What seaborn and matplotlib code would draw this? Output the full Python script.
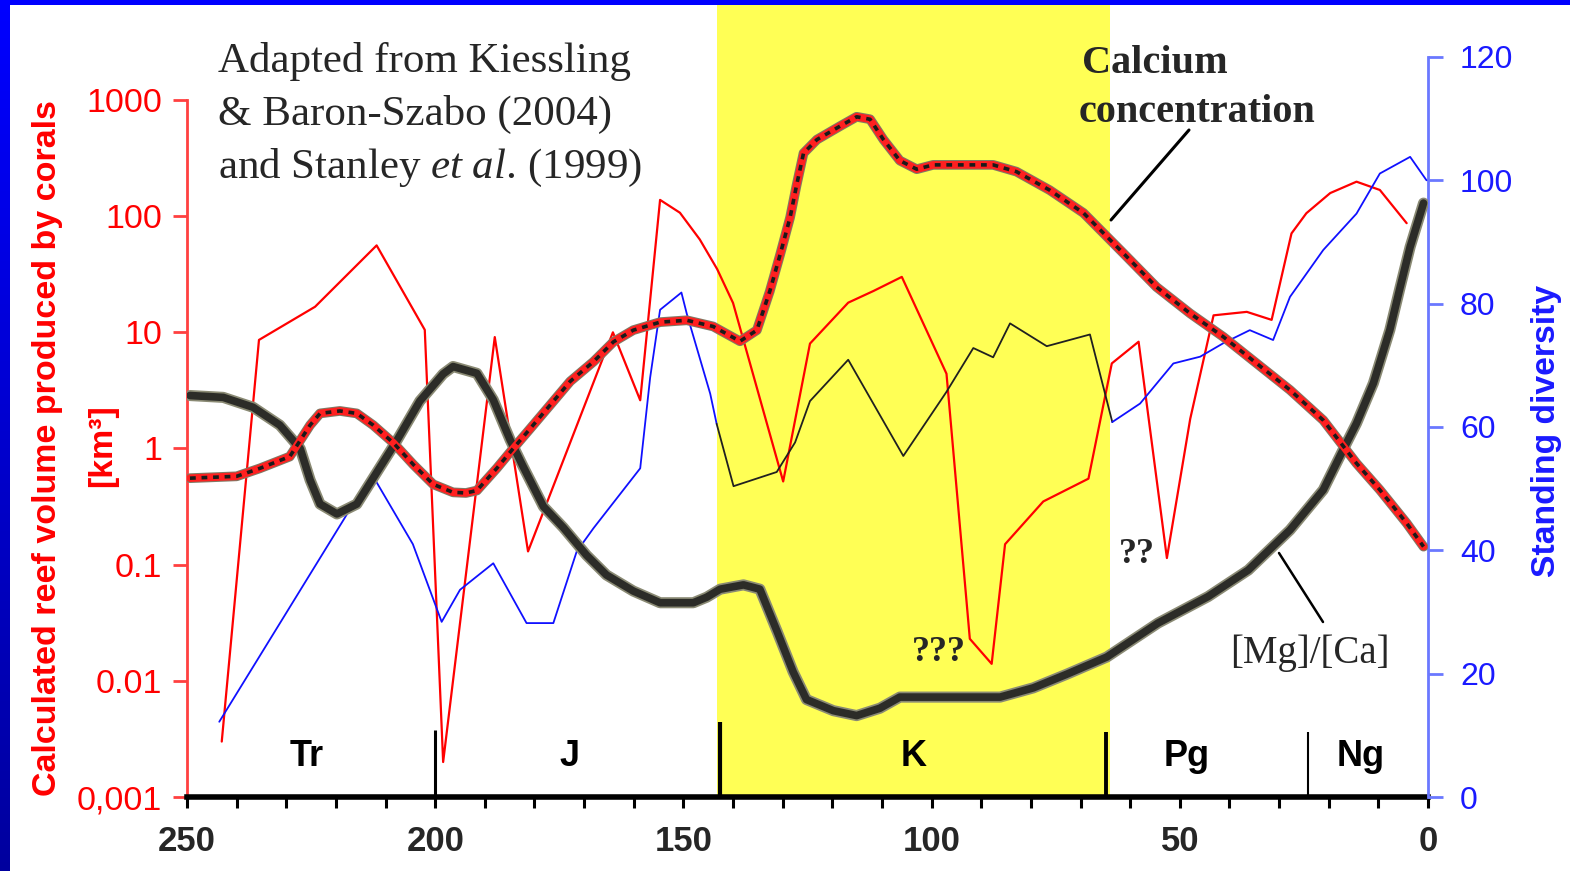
import matplotlib
matplotlib.use("Agg")
import matplotlib.pyplot as plt
from matplotlib.lines import Line2D
from matplotlib.ticker import FixedLocator, NullLocator
import numpy as np
import pandas as pd
import seaborn as sns

# calculated reef volume produced by corals [km3] (left, log axis)
reef_age = [243.0, 235.5, 224.2, 211.8, 202.1, 198.4, 188.0, 181.3, 164.2, 158.7,
            154.7, 150.7, 146.7, 143.2, 140.0, 129.9, 124.5, 116.8, 111.7, 106.0,
            97.0, 92.3, 87.9, 85.2, 77.5, 68.4, 63.7, 58.3, 52.6, 47.9,
            43.2, 36.5, 31.5, 27.5, 24.5, 19.7, 14.4, 9.7, 4.3]
reef_volume = [0.003, 8.6, 16.6, 56, 10.5, 0.002, 9.1, 0.13, 10, 2.6,
               138, 107, 63, 35, 17.9, 0.52, 8.0, 18, 22.7, 30,
               4.4, 0.023, 0.014, 0.15, 0.35, 0.55, 5.4, 8.3, 0.114, 1.8,
               14, 15, 12.8, 71, 106, 158, 198, 168, 87]

# standing diversity (right axis)
div_age = [243.5, 218.5, 212.8, 204.5, 201.0, 198.7, 195.0, 188.3, 181.6, 176.2,
           171.5, 168.1, 158.7, 156.7, 154.7, 150.4, 149.3, 144.6, 143.3, 139.9,
           131.2, 127.5, 124.5, 116.8, 105.7, 97.0, 91.6, 87.6, 84.2, 76.8,
           68.1, 63.6, 58.0, 51.3, 45.9, 41.2, 35.9, 31.2, 27.8, 21.1,
           14.4, 9.7, 3.6, 0.3]
diversity = [12.2, 44.9, 52.4, 41.0, 33.4, 28.4, 33.6, 37.9, 28.2, 28.2,
             39.8, 43.6, 53.3, 68.0, 79.0, 81.8, 78.3, 65.4, 60.5, 50.4,
             52.7, 57.5, 64.2, 70.9, 55.3, 65.7, 72.8, 71.3, 76.8, 73.1,
             75.0, 60.8, 63.8, 70.3, 71.4, 73.6, 75.7, 74.1, 81.1, 88.7,
             94.6, 101.1, 103.8, 100.0]

# [Mg]/[Ca] curve (drawn in right-axis units)
mgca_age = [249.4, 242.7, 236.7, 231.3, 227.2, 225.2, 223.2, 219.8, 215.8, 211.8,
            207.8, 203.1, 198.4, 196.4, 191.6, 188.3, 184.9, 182.3, 178.2, 174.2,
            169.5, 165.5, 160.1, 154.7, 148.0, 145.3, 142.6, 137.9, 134.6, 131.2,
            127.9, 125.2, 119.8, 115.1, 110.4, 106.4, 86.2, 79.5, 72.8, 64.7,
            54.4, 44.3, 36.2, 27.8, 21.1, 17.1, 14.4, 11.0, 7.7, 5.6,
            3.6, 0.9]
mgca = [65.1, 64.8, 63.2, 60.3, 56.5, 51.4, 47.5, 45.9, 47.5, 52.6,
        57.7, 64.2, 68.6, 69.8, 68.7, 64.4, 57.9, 53.6, 47.1, 43.7,
        39.2, 36.0, 33.4, 31.5, 31.5, 32.4, 33.7, 34.4, 33.7, 27.0,
        20.3, 15.8, 14.0, 13.2, 14.4, 16.2, 16.2, 17.7, 19.9, 22.7,
        28.2, 32.5, 36.8, 43.3, 49.8, 56.3, 60.6, 67.1, 75.7, 82.7,
        89.2, 96.3]

# calcium concentration curve (drawn in right-axis units)
ca_age = [249.4, 240.0, 235.3, 229.3, 225.2, 223.2, 219.2, 215.8, 212.5, 208.4,
          204.4, 200.4, 196.4, 193.8, 191.6, 187.6, 184.3, 180.9, 176.9, 172.8,
          168.1, 164.1, 160.1, 154.7, 149.3, 144.0, 138.6, 135.2, 132.6, 130.5,
          128.5, 127.2, 125.8, 123.1, 118.4, 115.1, 112.4, 109.7, 106.4, 103.0,
          99.7, 87.6, 82.9, 76.2, 69.4, 61.4, 54.7, 47.9, 41.2, 34.5,
          27.8, 21.1, 14.4, 9.7, 4.3, 0.9]
ca = [51.7, 52.0, 53.3, 55.2, 60.3, 62.2, 62.6, 62.2, 60.3, 57.4,
      53.9, 50.7, 49.4, 49.3, 49.7, 53.3, 56.5, 59.7, 63.5, 67.4,
      70.6, 73.8, 75.7, 77.0, 77.3, 76.3, 73.9, 75.7, 82.0, 88.0,
      94.0, 99.2, 104.4, 106.6, 108.8, 110.3, 109.9, 106.6, 103.2, 101.8,
      102.5, 102.5, 101.4, 98.4, 94.7, 88.2, 82.7, 78.4, 74.6, 70.3,
      66.0, 61.1, 54.1, 49.8, 44.4, 40.6]

# geological periods
period_names = ["Tr", "J", "K", "Pg", "Ng"]
period_mid = [225.8, 173.0, 103.6, 48.6, 13.6]
period_bounds = [200.0, 142.6, 64.8, 24.2]
cretaceous = (143.2, 64.1)

reef_ticks = [0.001, 0.01, 0.1, 1, 10, 100, 1000]
reef_tick_labels = ["0,001", "0.01", "0.1", "1", "10", "100", "1000"]
div_ticks = [0, 20, 40, 60, 80, 100, 120]
age_ticks = [0, 50, 100, 150, 200, 250]

sns.set_style("white")
plt.rcParams['font.family'] = ['Liberation Sans', 'DejaVu Sans']
plt.rcParams['mathtext.fontset'] = 'custom'
plt.rcParams['mathtext.rm'] = 'Liberation Serif'
plt.rcParams['mathtext.it'] = 'Liberation Serif:italic'

W, H = 1570, 871
fig = plt.figure(figsize=(W / 100, H / 100), dpi=100)
fig.patch.set_facecolor('white')


def fx(px):
    return px / W


def fy(py):
    return 1 - py / H


ax = fig.add_axes([fx(187), fy(797), fx(1428) - fx(187), fy(5) - fy(797)])
ax2 = ax.twinx()

ax.set_xlim(250, 0)
ax.set_yscale('log')
ax.set_ylim(1e-3, 10 ** (3 + 95 / 116.2))
ax2.set_ylim(0, 792 / 6.167)

ax.axvspan(cretaceous[0], cretaceous[1], color='#ffff55', lw=0, zorder=0)

# reef volume
sns.lineplot(x=reef_age, y=reef_volume, ax=ax, color='#ff0000', lw=1.6,
             sort=False, estimator=None)

# diversity: blue outside K, black inside
df_div = pd.DataFrame({'age': div_age, 'div': diversity})
before = df_div[df_div['age'] >= 143.3]
inside = df_div[(df_div['age'] <= 143.3) & (df_div['age'] >= 63.6)]
after = df_div[df_div['age'] <= 63.6]
for part, col in [(before, '#1010ff'), (inside, '#202020'), (after, '#1010ff')]:
    sns.lineplot(data=part, x='age', y='div', ax=ax2, color=col, lw=1.3,
                 sort=False, estimator=None, zorder=3)

# Mg/Ca thick curve
sns.lineplot(x=mgca_age, y=mgca, ax=ax2, color='#8a8a74', lw=8,
             sort=False, estimator=None, zorder=4, solid_capstyle='round',
             solid_joinstyle='round')
sns.lineplot(x=mgca_age, y=mgca, ax=ax2, color='#2c2c28', lw=5.5,
             sort=False, estimator=None, zorder=5, solid_capstyle='round',
             solid_joinstyle='round')

# calcium concentration thick curve
sns.lineplot(x=ca_age, y=ca, ax=ax2, color='#807a66', lw=7,
             sort=False, estimator=None, zorder=4, solid_joinstyle='round')
sns.lineplot(x=ca_age, y=ca, ax=ax2, color='#ff2020', lw=5.5,
             sort=False, estimator=None, zorder=5, solid_joinstyle='round')
ax2.plot(ca_age, ca, color='#1a1a1a', lw=2.6, dashes=(1.6, 1.6), zorder=6)

# period boundaries and names
bound_tops = [10.9, 12.2, 10.6, 10.6]
bound_widths = [2.2, 3.0, 2.8, 1.5]
for b, t, w in zip(period_bounds, bound_tops, bound_widths):
    ax2.vlines(b, 0, t, colors='black', lw=w, zorder=6)
for name, m in zip(period_names, period_mid):
    ax2.text(m, 6.5, name, ha='center', va='center', fontsize=26,
             fontweight='bold', color='black', zorder=7)

# spines
for s in ['top', 'right']:
    ax.spines[s].set_visible(False)
for s in ['top', 'left', 'bottom']:
    ax2.spines[s].set_visible(False)
ax.spines['bottom'].set_color('black')
ax.spines['bottom'].set_linewidth(4)
ax.spines['bottom'].set_zorder(8)
ax.spines['left'].set_color('#ff4040')
ax.spines['left'].set_linewidth(2)
ax.spines['left'].set_bounds(1e-3, 1e3)
ax2.spines['right'].set_color('#6a78ff')
ax2.spines['right'].set_linewidth(2)
ax2.spines['right'].set_bounds(0, 120)

# x axis
ax.set_xticks(age_ticks)
ax.set_xticklabels([str(t) for t in age_ticks], fontweight='bold')
ax.set_xticks(range(0, 251, 10), minor=True)
ax.tick_params(axis='x', which='both', bottom=True, direction='out', length=8,
               width=2.2, color='black', labelsize=25, pad=12)

# left axis
ax.yaxis.set_major_locator(FixedLocator(reef_ticks))
ax.yaxis.set_minor_locator(NullLocator())
ax.set_yticklabels(reef_tick_labels)
ax.tick_params(axis='y', which='major', left=True, direction='out', length=10,
               width=2, color='#ff4040', labelcolor='#ff0000', labelsize=24.5, pad=8)

# right axis
ax2.set_yticks(div_ticks)
ax2.yaxis.set_minor_locator(NullLocator())
ax2.tick_params(axis='y', which='major', right=True, direction='out', length=11,
                width=2, color='#6a78ff', labelcolor='#1a1aff', labelsize=23, pad=12)
ax.set_xlabel('')
ax.set_ylabel('')
ax2.set_xlabel('')
ax2.set_ylabel('')

# axis titles
fig.text(fx(47.5), fy(448), 'Calculated reef volume produced by corals', rotation=90,
         color='#ff0000', fontweight='bold', fontsize=24.5, ha='center', va='center')
fig.text(fx(103), fy(446), '[km³]', rotation=90, color='#ff0000', fontweight='bold',
         fontsize=24.5, ha='center', va='center')
fig.text(fx(1546), fy(431), 'Standing diversity', rotation=90, color='#1a1aff',
         fontweight='bold', fontsize=24.3, ha='center', va='center')

# annotations
serif = 'Liberation Serif'
fig.text(fx(218), fy(72), 'Adapted from Kiessling', family=serif, fontsize=31, va='baseline')
fig.text(fx(218), fy(125), '& Baron-Szabo (2004)', family=serif, fontsize=31, va='baseline')
fig.text(fx(218), fy(178), r'and Stanley $\mathit{et\ al.}\,$(1999)', family=serif,
         fontsize=31, va='baseline')
fig.text(fx(1082), fy(73), 'Calcium', family=serif, fontweight='bold', fontsize=29, va='baseline')
fig.text(fx(1079), fy(122), 'concentration', family=serif, fontweight='bold', fontsize=29,
         va='baseline')
fig.text(fx(1230), fy(663), '[Mg]/[Ca]', family=serif, fontsize=28, va='baseline')
fig.text(fx(912), fy(661), '???', family=serif, fontweight='bold', fontsize=26, va='baseline')
fig.text(fx(1119), fy(563), '??', family=serif, fontweight='bold', fontsize=26, va='baseline')
fig.add_artist(Line2D([fx(1189), fx(1111)], [fy(130), fy(220)], color='black', lw=2.2))
fig.add_artist(Line2D([fx(1279), fx(1323)], [fy(553), fy(622)], color='black', lw=1.8))

# blue frame
fig.add_artist(plt.Rectangle((0, fy(5)), 1, 5 / H, transform=fig.transFigure,
                             color='#0000ff', lw=0, zorder=10))
bax = fig.add_axes([0, 0, 10 / W, 1])
grad = np.linspace(1, 0, 200)
img = np.zeros((200, 1, 3))
img[:, 0, 2] = 0.62 + 0.38 * grad
bax.imshow(img, aspect='auto', extent=(0, 1, 0, 1))
bax.set_axis_off()

fig.savefig('out.png', dpi=100)
